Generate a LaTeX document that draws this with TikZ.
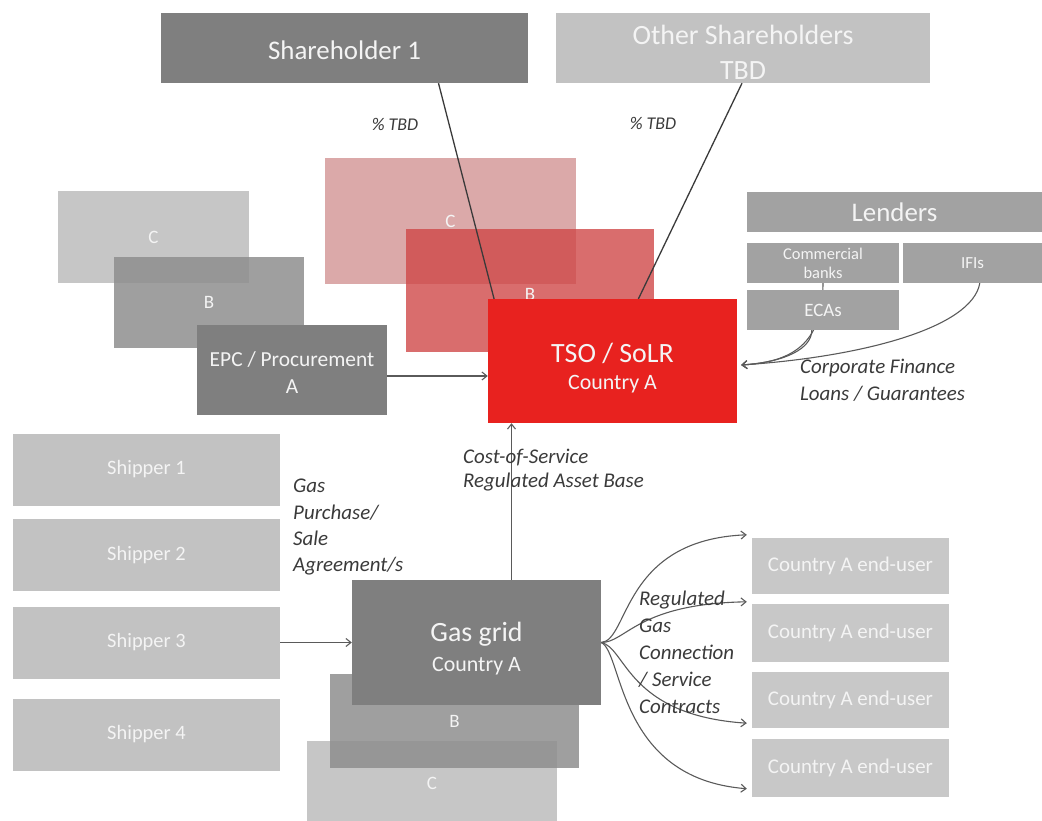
\documentclass[tikz,border=0pt]{standalone}
\usepackage{fontspec}
\setmainfont{Carlito}
\usetikzlibrary{arrows.meta}
\definecolor{boxtext}{HTML}{F4F4F4}
\definecolor{dgray}{HTML}{7F7F7F}
\definecolor{mgray}{HTML}{8E8E8E}
\definecolor{lgray}{HTML}{C6C6C6}
\definecolor{lendgray}{HTML}{A2A2A2}
\definecolor{shipgray}{HTML}{C2C2C2}
\definecolor{eugray}{HTML}{C8C8C8}
\definecolor{tsored}{HTML}{E8221F}
\definecolor{bred}{HTML}{D04848}
\definecolor{cpink}{HTML}{D59A9A}
\definecolor{linegray}{HTML}{5A5A5A}
\definecolor{labelgray}{HTML}{3A3A3A}
\tikzset{
  box/.style={rectangle, inner sep=0pt, text=boxtext, align=center},
  lbl/.style={inner sep=0pt, anchor=north west, align=left, text=labelgray},
  conn/.style={draw=linegray, line width=1.1bp, -{Straight Barb[length=5bp,width=8bp]}},
  share/.style={draw=labelgray, line width=1.3bp},
  small/.style={font=\fontsize{19}{22}\selectfont},
}
\begin{document}
\begin{tikzpicture}[x=1bp,y=-1bp]
\useasboundingbox (0,0) rectangle (1042,821);
% shareholders
\node[box, fill=dgray, minimum width=367bp, minimum height=70bp, font=\fontsize{27}{32}\selectfont] (sh1) at (344.5,48) {\rule{0pt}{24bp}Shareholder 1};
\node[box, fill=lgray!95!gray, minimum width=374bp, minimum height=70bp, font=\fontsize{28}{35}\selectfont] (sho) at (743,48) {\rule{0pt}{28bp}Other Shareholders\\TBD};
\node[inner sep=0pt, text=labelgray, font=\fontsize{18}{20}\selectfont\itshape] (tbd1) at (395,124) {\% TBD};
\node[inner sep=0pt, text=labelgray, font=\fontsize{18}{20}\selectfont\itshape] (tbd2) at (653,123) {\% TBD};
% red stack
\node[box, small, fill=cpink, fill opacity=0.85, text opacity=1, minimum width=251bp, minimum height=126bp] (rC) at (450.5,221) {C};
\node[box, small, fill=bred, fill opacity=0.8, text opacity=1, minimum width=248bp, minimum height=123bp] (rB) at (530,290.5) {\rule{0pt}{19bp}B};
\draw[share] ([xshift=94bp]sh1.south) -- ([xshift=102bp]rB.north west |- rB.south) coordinate (t1);
\draw[share] ([xshift=-1bp]sho.south) -- ([xshift=207bp]rB.north west |- rB.south) coordinate (t2);
\node[box, fill=tsored, minimum width=249bp, minimum height=124bp, font=\fontsize{22}{27}\selectfont] (tso) at (612.5,361) {{\fontsize{28}{30}\selectfont\rule{0pt}{33bp}TSO / SoLR}\\Country A};
% left stack
\node[box, small, fill=lgray, minimum width=191bp, minimum height=92bp] (lC) at (153.5,237) {C};
\node[box, small, fill=mgray, fill opacity=0.85, text opacity=1, minimum width=190bp, minimum height=91bp] (lB) at (209,302.5) {B};
\node[box, fill=dgray, minimum width=190bp, minimum height=90bp, font=\fontsize{21.5}{27}\selectfont] (epc) at (292,370) {\rule{0pt}{20bp}EPC / Procurement\\A};
\draw[conn] ([yshift=-6bp]epc.east) -- ([yshift=-6bp]epc.east -| tso.west);
% lenders
\node[box, fill=lendgray, minimum width=295bp, minimum height=40bp, font=\fontsize{27}{30}\selectfont] (lend) at (894.5,212) {Lenders};
\draw[conn] (823,283) coordinate (cbs) .. controls +(0,62) and +(50,-3) .. ([xshift=4bp,yshift=-4bp]tso.east);
\node[box, fill=lendgray, minimum width=152bp, minimum height=40bp, font=\fontsize{16.5}{19}\selectfont] (cb) at (823,263) {Commercial\\banks};
\node[box, fill=lendgray, minimum width=139bp, minimum height=40bp, font=\fontsize{17}{19}\selectfont] (ifis) at (972.5,263) {IFIs};
\node[box, fill=lendgray, minimum width=152bp, minimum height=40bp, font=\fontsize{19}{21}\selectfont] (ecas) at (823,310) {ECAs};
\draw[conn] ([xshift=65bp]ecas.south west) .. controls +(0,18) and +(45,-3) .. ([xshift=4bp,yshift=-4bp]tso.east);
\draw[conn] ([xshift=77bp]ifis.south west) .. controls +(-8,45) and +(120,-8) .. ([xshift=4bp,yshift=-4bp]tso.east);
\node[lbl, font=\fontsize{21}{27}\selectfont\itshape] (cfl) at (800,359) {Corporate Finance\\Loans / Guarantees};
% gas grid stack
\node[box, small, fill=lgray, minimum width=250bp, minimum height=84bp] (gC) at (432,783) {C};
\node[box, small, fill=mgray, fill opacity=0.85, text opacity=1, minimum width=249bp, minimum height=94bp] (gB) at (454.5,721) {B};
\node[box, fill=dgray, minimum width=249bp, minimum height=125bp, font=\fontsize{22}{30}\selectfont] (gas) at (476.5,642.5) {{\fontsize{28}{30}\selectfont\rule{0pt}{31bp}Gas grid}\\Country A};
\draw[conn] ([xshift=35bp]gas.north) -- ([xshift=35bp]gas.north |- tso.south);
\node[lbl, font=\fontsize{21}{24}\selectfont\itshape] (cos) at (463,449) {Cost-of-Service\\Regulated Asset Base};
% shippers
\node[box, small, fill=shipgray, minimum width=267bp, minimum height=72bp, font=\fontsize{20.5}{24}\selectfont] (s1) at (146.5,469.5) {Shipper 1};
\node[box, small, fill=shipgray, minimum width=267bp, minimum height=72bp, font=\fontsize{20.5}{24}\selectfont] (s2) at (146.5,555) {Shipper 2};
\node[box, small, fill=shipgray, minimum width=267bp, minimum height=72bp, font=\fontsize{20.5}{24}\selectfont] (s3) at (146.5,642.5) {Shipper 3};
\node[box, small, fill=shipgray, minimum width=267bp, minimum height=72bp, font=\fontsize{20.5}{24}\selectfont] (s4) at (146.5,734.5) {Shipper 4};
\draw[conn] (s3.east) -- (s3.east -| gas.west);
\node[lbl, font=\fontsize{21}{26.5}\selectfont\itshape] (gpsa) at (293,479) {Gas\\Purchase/\\Sale\\Agreement/s};
% end users
\node[box, fill=eugray, minimum width=197bp, minimum height=56bp, font=\fontsize{21}{24}\selectfont] (eu1) at (850.5,566) {Country A end-user};
\node[box, fill=eugray, minimum width=197bp, minimum height=58bp, font=\fontsize{21}{24}\selectfont] (eu2) at (850.5,633) {Country A end-user};
\node[box, fill=eugray, minimum width=197bp, minimum height=56bp, font=\fontsize{21}{24}\selectfont] (eu3) at (850.5,700) {Country A end-user};
\node[box, fill=eugray, minimum width=197bp, minimum height=58bp, font=\fontsize{21}{24}\selectfont] (eu4) at (850.5,767.5) {Country A end-user};
\draw[conn] (gas.east) .. controls +(28,-2) and +(-125,5) .. ([xshift=-5bp,yshift=3bp]eu1.north west);
\draw[conn] (gas.east) .. controls +(25,0) and +(-110,2) .. ([xshift=-5bp,yshift=2bp]eu2.north west);
\draw[conn] (gas.east) .. controls +(25,5) and +(-120,-8) .. ([xshift=-5bp,yshift=5bp]eu3.south west);
\draw[conn] (gas.east) .. controls +(22,10) and +(-130,-10) .. ([xshift=-5bp,yshift=8bp]eu4.south west);
\node[lbl, font=\fontsize{21}{27}\selectfont\itshape] (rgc) at (639,591) {Regulated\\Gas\\Connection\\/ Service\\Contracts};
\end{tikzpicture}
\end{document}
